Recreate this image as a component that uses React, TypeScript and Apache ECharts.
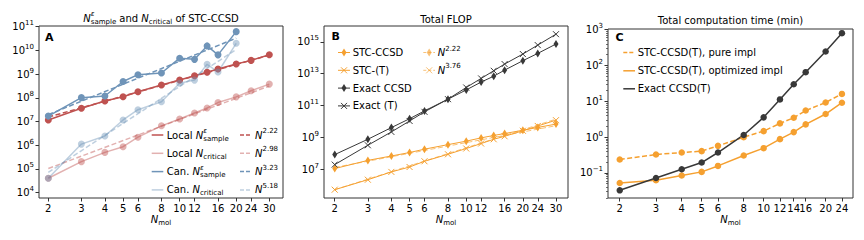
import React, { useEffect, useRef } from 'react';
import * as echarts from 'echarts';

// ---------------- data ----------------
const nA = [2, 3, 4, 5, 6, 8, 10, 12, 14, 16, 20, 24, 30];
const nCan = [2, 3, 4, 5, 6, 8, 10, 12, 14, 16, 20];
const localSample = [1.16e7, 3.63e7, 7.41e7, 1.12e8, 1.82e8, 3.47e8, 5.62e8, 8.51e8, 1.2e9, 1.66e9, 2.69e9, 3.8e9, 6.61e9];
const localCritical = [4.07e4, 2.04e5, 5.0e5, 8.7e5, 2.19e6, 6.6e6, 1.29e7, 2.29e7, 3.72e7, 6.31e7, 1.1e8, 2.0e8, 3.8e8];
const canSample = [1.7e7, 1.02e8, 1.2e8, 4.9e8, 9.5e8, 1.12e9, 4.7e9, 4.2e9, 1.55e10, 6.5e9, 6.2e10];
const canCritical = [4.07e4, 1.12e6, 2.45e6, 1.17e7, 3.16e7, 6.9e7, 4.1e8, 5.6e8, 2.6e9, 1.23e9, 2.0e10];
const fitLocalSample = [[2, 1.55e7], [30, 6.3e9]];
const fitLocalCritical = [[2, 1.05e5], [30, 3.16e8]];
const fitCanSample = [[2, 1.95e7], [20, 3.3e10]];
const fitCanCritical = [[2, 7.2e4], [20, 1.1e10]];

const nB = [2, 3, 4, 5, 6, 8, 10, 12, 14, 16, 20, 24, 30];
const stcCCSD = [1.1e7, 3.6e7, 6.8e7, 1.12e8, 1.82e8, 3.5e8, 5.8e8, 9.3e8, 1.32e9, 1.74e9, 2.8e9, 4.2e9, 6.8e9];
const stcT = [5.2e5, 2.2e6, 6.8e6, 1.38e7, 3.16e7, 8.7e7, 2.0e8, 4.1e8, 7.6e8, 1.17e9, 2.6e9, 5.2e9, 1.2e10];
const exactCCSD = [8.3e7, 7.6e8, 4.1e9, 1.48e10, 4.6e10, 2.5e11, 9.5e11, 2.95e12, 6.9e12, 1.66e13, 6.5e13, 1.86e14, 7.2e14];
const exactT = [1.95e7, 3.2e8, 2.2e9, 1.07e10, 4.0e10, 2.5e11, 1.35e12, 5.0e12, 1.51e13, 4.0e13, 1.7e14, 6.2e14, 3.0e15];
const fitStcCCSD = [[2, 1.3e7], [30, 5.4e9]];
const fitStcT = [[2, 5.2e5], [30, 1.4e10]];

const nC = [2, 3, 4, 5, 6, 8, 10, 12, 14, 16, 20, 24];
const timePure = [0.237, 0.327, 0.372, 0.406, 0.57, 1.0, 1.47, 2.42, 3.48, 5.53, 9.27, 16.1];
const timeOpt = [0.0524, 0.0624, 0.0845, 0.107, 0.157, 0.307, 0.492, 0.879, 1.38, 2.27, 4.42, 9.16];
const timeExact = [0.0327, 0.0724, 0.127, 0.195, 0.372, 1.15, 3.57, 11.3, 30.1, 65.2, 247, 800];

const xTicksAB = [2, 3, 4, 5, 6, 8, 10, 12, 16, 20, 24, 30];
const xTicksC = [2, 3, 4, 5, 6, 8, 10, 12, 14, 16, 20, 24];
const yExpA = [4, 5, 6, 7, 8, 9, 10, 11];
const yExpB = [7, 9, 11, 13, 15];
const yExpC = [-1, 0, 1, 2, 3];
const minorMantissa = [2, 3, 4, 5, 6, 7, 8, 9];

// ---------------- styling ----------------
const FONT = '"DejaVu Sans"';
const RED = '#bf5250';
const RED_L = 'rgba(191,82,80,0.45)';
const BLUE = '#6f94b8';
const BLUE_L = 'rgba(111,148,184,0.45)';
const ORANGE = '#f5a030';
const ORANGE_L = 'rgba(245,160,48,0.65)';
const DARK = '#383838';
const AXIS = '#333';

const L = Math.log10;
const pts = (xs: number[], ys: number[]) => xs.map((x, i) => [L(x), L(ys[i])]);
const pairs = (p: number[][]) => p.map(([x, y]) => [L(x), L(y)]);

type Piece = { t: string; size?: number; italic?: boolean; bold?: boolean; dy?: number; stack?: boolean };

let _ctx: CanvasRenderingContext2D | null = null;
function fontStr(p: Piece) {
  return `${p.italic ? 'italic ' : ''}${p.bold ? 'bold ' : ''}${p.size || 10}px ${FONT}`;
}
function measure(p: Piece) {
  if (!_ctx) _ctx = document.createElement('canvas').getContext('2d');
  if (!_ctx) return p.t.length * (p.size || 10) * 0.6;
  _ctx.font = fontStr(p);
  return _ctx.measureText(p.t).width;
}
function mathText(pieces: Piece[], x: number, y: number, align: 'left' | 'center', color = '#000') {
  const pos: number[] = [];
  let cur = 0;
  let pend = 0;
  for (const p of pieces) {
    const w = measure(p);
    pos.push(cur);
    if (p.stack) pend = w;
    else {
      cur += Math.max(w, pend);
      pend = 0;
    }
  }
  const x0 = align === 'center' ? x - cur / 2 : x;
  return pieces.map((p, i) => ({
    type: 'text',
    x: x0 + pos[i],
    y: y + (p.dy || 0),
    silent: true,
    style: {
      text: p.t,
      font: fontStr(p),
      fill: color,
      textAlign: 'left',
      textVerticalAlign: 'middle',
      verticalAlign: 'middle',
    },
  }));
}
const SUP = -4;
const SUB = 3.5;
const nEpsSample = (): Piece[] => [
  { t: 'N', italic: true },
  { t: 'ε', italic: true, size: 7, dy: SUP, stack: true },
  { t: 'sample', size: 7, dy: SUB },
];
const nCritical = (): Piece[] => [
  { t: 'N', italic: true },
  { t: 'critical', size: 7, dy: SUB },
];
const nPow = (e: string): Piece[] => [
  { t: 'N', italic: true },
  { t: e, size: 7, dy: SUP },
];

function hline(x1: number, x2: number, y: number, color: string, dash?: number[], w = 1.5) {
  return {
    type: 'line',
    silent: true,
    shape: { x1, y1: y, x2, y2: y },
    style: { stroke: color, lineWidth: w, lineDash: dash || null },
  };
}
function diamond(cx: number, cy: number, color: string) {
  return {
    type: 'polygon',
    silent: true,
    shape: { points: [[cx, cy - 4], [cx + 2.5, cy], [cx, cy + 4], [cx - 2.5, cy]] },
    style: { fill: color },
  };
}
function xmark(cx: number, cy: number, color: string) {
  return [
    { type: 'line', silent: true, shape: { x1: cx - 3, y1: cy - 3, x2: cx + 3, y2: cy + 3 }, style: { stroke: color, lineWidth: 1 } },
    { type: 'line', silent: true, shape: { x1: cx - 3, y1: cy + 3, x2: cx + 3, y2: cy - 3 }, style: { stroke: color, lineWidth: 1 } },
  ];
}

const DASH = [5, 2.5];
const XPATH = 'path://M0 0L10 10M10 0L0 10';

function xAxis(gi: number, min: number, max: number, ticks: number[]) {
  const cv = ticks.map(L);
  return {
    type: 'value',
    gridIndex: gi,
    position: 'bottom',
    min,
    max,
    axisLine: { show: false, onZero: false },
    splitLine: { show: false },
    axisTick: { show: true, customValues: cv, length: 3.5, lineStyle: { color: AXIS, width: 1 } },
    axisLabel: {
      customValues: cv,
      formatter: (v: number) => String(Math.round(Math.pow(10, v))),
      fontSize: 10,
      fontFamily: FONT,
      color: '#000',
      margin: 5,
    },
  };
}
function yAxis(gi: number, min: number, max: number, exps: number[]) {
  return {
    type: 'value',
    gridIndex: gi,
    position: 'left',
    min,
    max,
    axisLine: { show: false, onZero: false },
    splitLine: { show: false },
    axisTick: { show: true, customValues: exps, length: 3.5, lineStyle: { color: AXIS, width: 1 } },
    axisLabel: {
      customValues: exps,
      margin: 5,
      formatter: (v: number) => {
        const r = Math.round(v);
        return `{b|10}{s|${r < 0 ? '−' + -r : r}}`;
      },
      rich: {
        b: { fontSize: 10, fontFamily: FONT, color: '#000', lineHeight: 14 },
        s: { fontSize: 7, fontFamily: FONT, color: '#000', lineHeight: 8, verticalAlign: 'top' },
      },
    },
  };
}
function minorYAxis(gi: number, min: number, max: number) {
  const vals: number[] = [];
  for (let e = Math.floor(min); e <= Math.ceil(max); e++) {
    for (const m of minorMantissa) {
      const v = e + L(m);
      if (v > min && v < max) vals.push(v);
    }
  }
  return {
    type: 'value',
    gridIndex: gi,
    position: 'left',
    offset: 0,
    min,
    max,
    axisLine: { show: false, onZero: false },
    splitLine: { show: false },
    axisTick: { show: true, customValues: vals, length: 2, lineStyle: { color: AXIS, width: 0.7 } },
    axisLabel: { show: false },
  };
}

function ser(xi: number, yi: number, data: number[][], color: string, o: any = {}) {
  return {
    type: 'line',
    xAxisIndex: xi,
    yAxisIndex: yi,
    data,
    silent: true,
    showAllSymbol: true,
    color,
    symbol: o.symbol || 'circle',
    symbolSize: o.size ?? 7,
    showSymbol: o.noSymbol ? false : true,
    lineStyle: { color, width: o.width ?? 1.5, type: o.dash ? DASH : 'solid' },
    itemStyle: o.xmark ? { color, borderColor: color, borderWidth: 1 } : { color },
    z: o.z ?? 2,
  };
}

export default function App() {
  const ref = useRef<HTMLDivElement>(null);
  useEffect(() => {
    if (!ref.current) return;
    const chart = echarts.init(ref.current, undefined, { renderer: 'svg' });

    const ax = { A: [0.2515, 1.55], B: [0.244, 1.541], C: [0.244, 1.434] };
    const ay = { A: [3.776, 11.03], B: [5.195, 15.99], C: [-1.7, 3.02] };

    const graphics: any[] = [];
    // panel letters
    graphics.push(...mathText([{ t: 'A', bold: true, size: 11 }], 45, 37.5, 'left'));
    graphics.push(...mathText([{ t: 'B', bold: true, size: 11 }], 331.5, 36.5, 'left'));
    graphics.push(...mathText([{ t: 'C', bold: true, size: 11 }], 615.5, 37, 'left'));
    // titles
    graphics.push(
      ...mathText(
        [...nEpsSample(), { t: ' and ' }, ...nCritical(), { t: ' of STC-CCSD' }],
        161,
        18,
        'center'
      )
    );
    graphics.push(...mathText([{ t: 'Total FLOP' }], 446, 19, 'center'));
    graphics.push(...mathText([{ t: 'Total computation time (min)' }], 730.5, 20, 'center'));
    // x axis names
    const nmol: Piece[] = [{ t: 'N', italic: true }, { t: 'mol', size: 7, dy: SUB }];
    graphics.push(...mathText(nmol, 161, 219, 'center'));
    graphics.push(...mathText(nmol, 446, 219, 'center'));
    graphics.push(...mathText(nmol, 730.5, 219, 'center'));

    // legend A
    const rowsA = [135, 153.3, 171.6, 189.9];
    const col1A = [RED, RED_L, BLUE, BLUE_L];
    const txtA: Piece[][] = [
      [{ t: 'Local ' }, ...nEpsSample()],
      [{ t: 'Local ' }, ...nCritical()],
      [{ t: 'Can. ' }, ...nEpsSample()],
      [{ t: 'Can. ' }, ...nCritical()],
    ];
    const powA = ['2.22', '2.98', '3.23', '5.18'];
    rowsA.forEach((y, i) => {
      graphics.push(hline(151.7, 163.3, y, col1A[i]));
      graphics.push(...mathText(txtA[i], 166.7, y, 'left'));
      graphics.push(hline(240, 251.7, y, col1A[i], [4, 2]));
      graphics.push(...mathText(nPow(powA[i]), 255, y, 'left'));
    });

    // legend B
    const rowsB = [52.5, 70.3, 88.1, 105.9];
    const labB = ['STC-CCSD', 'STC-(T)', 'Exact CCSD', 'Exact (T)'];
    const colB = [ORANGE, ORANGE, DARK, DARK];
    rowsB.forEach((y, i) => {
      graphics.push(hline(338, 350, y, colB[i], undefined, 1));
      if (i % 2 === 0) graphics.push(diamond(344, y, colB[i]));
      else graphics.push(...xmark(344, y, colB[i]));
      graphics.push(...mathText([{ t: labB[i] }], 352.7, y, 'left'));
    });
    ['2.22', '3.76'].forEach((e, i) => {
      const y = rowsB[i];
      graphics.push(hline(423.3, 435, y, ORANGE_L, [3, 2], 1));
      if (i === 0) graphics.push(diamond(429.2, y, ORANGE_L));
      else graphics.push(...xmark(429.2, y, ORANGE_L));
      graphics.push(...mathText(nPow(e), 437.7, y, 'left'));
    });

    // legend C
    const rowsC = [52.5, 70.8, 88.8];
    graphics.push(hline(623.3, 635, rowsC[0], ORANGE, [4, 2]));
    graphics.push(...mathText([{ t: 'STC-CCSD(T), pure impl' }], 637.7, rowsC[0], 'left'));
    graphics.push(hline(623.3, 635, rowsC[1], ORANGE));
    graphics.push(...mathText([{ t: 'STC-CCSD(T), optimized impl' }], 637.7, rowsC[1], 'left'));
    graphics.push(hline(623.3, 635, rowsC[2], DARK));
    graphics.push(...mathText([{ t: 'Exact CCSD(T)' }], 637.7, rowsC[2], 'left'));

    const gridStyle = { show: true, borderColor: AXIS, borderWidth: 1, backgroundColor: 'transparent' };

    chart.setOption({
      animation: false,
      backgroundColor: '#fff',
      grid: [
        { left: 39, top: 26, width: 244, height: 172, ...gridStyle },
        { left: 324, top: 26, width: 244, height: 172, ...gridStyle },
        { left: 608, top: 29, width: 245, height: 169, ...gridStyle },
      ],
      xAxis: [
        xAxis(0, ax.A[0], ax.A[1], xTicksAB),
        xAxis(1, ax.B[0], ax.B[1], xTicksAB),
        xAxis(2, ax.C[0], ax.C[1], xTicksC),
      ],
      yAxis: [
        yAxis(0, ay.A[0], ay.A[1], yExpA),
        yAxis(1, ay.B[0], ay.B[1], yExpB),
        yAxis(2, ay.C[0], ay.C[1], yExpC),
        minorYAxis(2, ay.C[0], ay.C[1]),
      ],
      series: [
        // A
        ser(0, 0, pts(nA, localSample), RED),
        ser(0, 0, pts(nA, localCritical), RED_L),
        ser(0, 0, pts(nCan, canSample), BLUE),
        ser(0, 0, pts(nCan, canCritical), BLUE_L),
        ser(0, 0, pairs(fitLocalSample), RED, { dash: true, noSymbol: true }),
        ser(0, 0, pairs(fitLocalCritical), RED_L, { dash: true, noSymbol: true }),
        ser(0, 0, pairs(fitCanSample), BLUE, { dash: true, noSymbol: true }),
        ser(0, 0, pairs(fitCanCritical), BLUE_L, { dash: true, noSymbol: true }),
        // B
        ser(1, 1, pairs(fitStcCCSD), ORANGE_L, { dash: true, noSymbol: true, width: 1 }),
        ser(1, 1, pairs(fitStcT), ORANGE_L, { dash: true, noSymbol: true, width: 1 }),
        ser(1, 1, pts(nB, stcCCSD), ORANGE, { symbol: 'diamond', size: [5, 8], width: 1 }),
        ser(1, 1, pts(nB, stcT), ORANGE, { symbol: XPATH, size: 6, width: 1, xmark: true }),
        ser(1, 1, pts(nB, exactCCSD), DARK, { symbol: 'diamond', size: [5, 8], width: 1 }),
        ser(1, 1, pts(nB, exactT), DARK, { symbol: XPATH, size: 6, width: 1, xmark: true }),
        // C
        ser(2, 2, pts(nC, timePure), ORANGE, { dash: true, size: 6.5 }),
        ser(2, 2, pts(nC, timeOpt), ORANGE, { size: 6.5 }),
        ser(2, 2, pts(nC, timeExact), DARK, { size: 6.5 }),
      ],
      graphic: graphics,
    });

    return () => chart.dispose();
  }, []);
  return <div ref={ref} style={{ position: 'fixed', left: 0, top: 0, width: 864, height: 240 }} />;
}
